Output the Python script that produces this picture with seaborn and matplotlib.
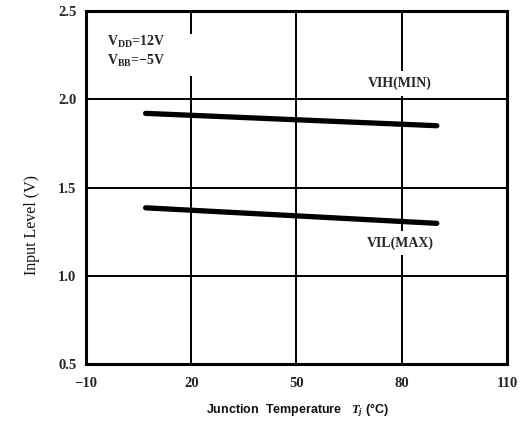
import pandas as pd
import matplotlib
matplotlib.use("Agg")
import matplotlib.pyplot as plt
import seaborn as sns

# data
temps = [7, 90]
vih_min = [1.92, 1.85]
vil_max = [1.385, 1.297]

x_ticks = [-10, 20, 50, 80, 110]
y_ticks = [0.5, 1.0, 1.5, 2.0, 2.5]

df = pd.DataFrame({
    "temp": temps * 2,
    "level": vih_min + vil_max,
    "curve": ["VIH(MIN)"] * 2 + ["VIL(MAX)"] * 2,
})

sns.set_theme(style="white")
plt.rcParams["font.family"] = ["Liberation Serif", "DejaVu Serif"]
plt.rcParams["mathtext.fontset"] = "custom"
plt.rcParams["mathtext.rm"] = "Liberation Serif:bold"
plt.rcParams["mathtext.it"] = "Liberation Serif:italic:bold"
plt.rcParams["mathtext.bf"] = "Liberation Serif:bold"

fig = plt.figure(figsize=(5.23, 4.26), dpi=100)
ax = fig.add_axes([0.1644, 0.1455, 0.805, 0.8287])

# grid (drawn by hand, the scan has a break in the 20 line)
ax.hlines([1.0, 1.5, 2.0], -10, 110, color="black", lw=1.4, zorder=1)
ax.vlines([50, 80], 0.5, 2.5, color="black", lw=1.4, zorder=1)
ax.vlines([20, 20], [0.5, 2.37], [2.13, 2.5], color="black", lw=1.4, zorder=1)

sns.lineplot(data=df, x="temp", y="level", units="curve", estimator=None,
             color="black", lw=3.8, solid_capstyle="round", ax=ax, zorder=3)

ax.set_xlim(-10, 110)
ax.set_ylim(0.5, 2.5)
ax.set_xticks(x_ticks)
ax.set_xticklabels([str(t).replace("-", "\u2212") for t in x_ticks],
                   fontsize=10.5, fontweight="bold")
ax.set_yticks(y_ticks)
ax.set_yticklabels([f"{t:.1f}" for t in y_ticks], fontsize=10.5, fontweight="bold")
ax.tick_params(length=0, pad=9)
ax.tick_params(axis="y", pad=7)

for s in ax.spines.values():
    s.set_linewidth(2.2)
    s.set_color("black")

ax.set_xlabel("")
ax.set_ylabel("")

fig.text(0.568, 0.037, "Junction  Temperature   $T_j$ (\u00b0C)",
         ha="center", va="center", fontsize=9, fontweight="bold",
         family=["Liberation Sans"], color="#111111")
fig.text(0.062, 0.472, "Input Level (V)", rotation=90, ha="center", va="center",
         fontsize=11.5, color="#111111")

ax.text(-4, 2.325, r"V$_{\rm DD}$=12V", fontsize=10, fontweight="bold", va="center")
ax.text(-4, 2.215, "V$_{\\rm BB}$=\u22125V", fontsize=10, fontweight="bold", va="center")

box = dict(facecolor="white", edgecolor="none", pad=4)
ax.text(79.5, 2.09, "VIH(MIN)", fontsize=10, fontweight="bold", ha="center",
        va="center", bbox=box, zorder=2)
ax.text(79.5, 1.185, "VIL(MAX)", fontsize=10, fontweight="bold", ha="center",
        va="center", bbox=box, zorder=2)

fig.savefig("out.png", dpi=100, facecolor="white")
